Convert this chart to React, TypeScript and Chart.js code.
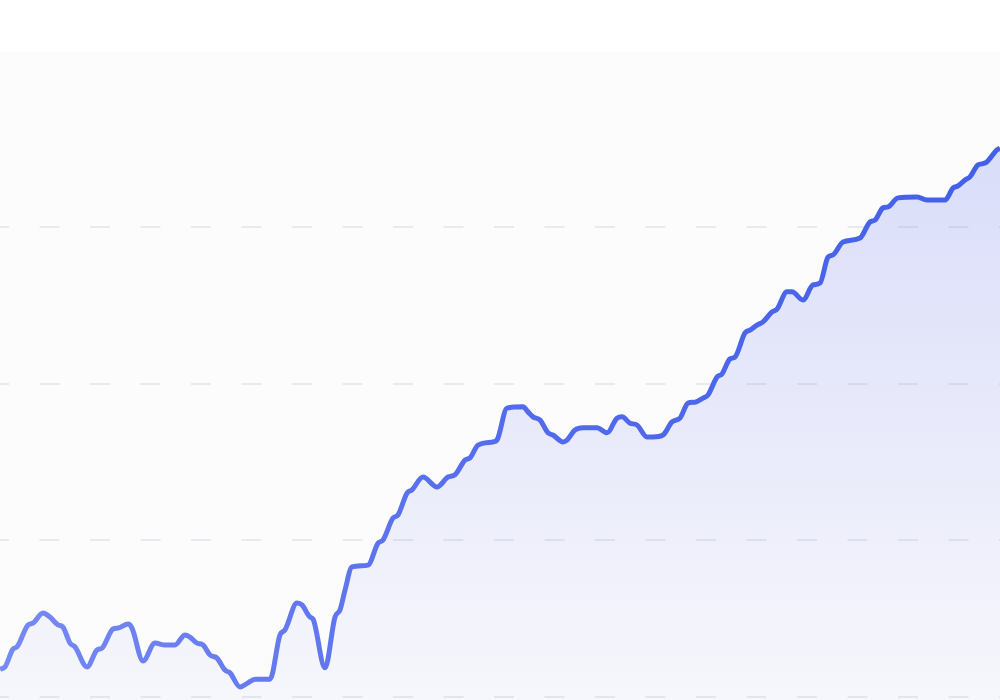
import React, { useEffect, useRef } from "react";
import { Chart, registerables } from "chart.js";

Chart.register(...registerables);

// Time axis (days) and series values
const days: number[] = [
  0, 0.5, 1.3, 1.7, 2.8, 3.3, 4.3, 5.0, 5.8, 6.3, 7.0, 7.5, 8.7, 9.7, 10.2, 11.3, 11.8, 12.8, 13.2,
  14.3, 15.5, 16.5, 17.5, 18.5, 19.0, 19.7, 20.3, 21.0, 21.7, 22.5, 23.0, 24.0, 24.8, 25.5, 27.0,
  28.0, 28.5, 29.7, 30.2, 31.0, 31.3, 32.5, 33.5, 34.0, 34.5, 35.2, 36.8, 37.8, 38.3, 39.3, 39.8,
  40.7, 41.2, 42.3, 43.7, 44.8, 45.5, 46.5, 47.0, 47.8, 49.3, 49.7, 50.7, 52.3, 52.8, 53.3, 54.0,
  54.8, 55.3, 56.3, 56.7, 57.5, 58.3, 59.7, 60.7, 61.7, 62.2, 63.0, 63.7, 64.7, 65.3, 66.3, 67.2,
  68.0, 68.8, 69.5, 70.3, 70.8, 71.7, 72.2, 73.0, 73.5, 74.5, 75.0, 75.7, 76.3, 77.2, 77.7, 78.7,
  79.2, 80.3, 81.3, 82.0, 82.8, 83.3, 84.3, 86.0, 87.0, 87.5, 88.3, 88.8, 89.8, 91.7, 92.7, 94.5,
  95.3, 95.8, 96.5, 97.0, 97.8, 98.5, 99.7, 100,
];

const values: number[] = [
  8.9, 9.6, 15.3, 16.0, 23.0, 23.6, 26.8, 25.5, 23.0, 22.3, 17.2, 16.0, 9.6, 15.0, 15.6, 21.7, 22.0, 23.3, 22.0,
  11.5, 17.2, 16.6, 16.6, 19.8, 19.1, 17.2, 16.6, 13.4, 12.4, 8.6, 7.7, 3.2, 4.5, 5.7, 5.7,
  19.8, 21.4, 30.0, 29.4, 25.5, 24.9, 9.3, 25.5, 27.8, 34.1, 41.5, 42.1, 49.1, 50.1, 57.1, 58.1,
  65.1, 66.1, 70.2, 67.0, 70.2, 70.9, 75.6, 76.3, 80.4, 81.4, 82.0, 92.2, 92.6, 91.0, 89.4, 88.4,
  84.3, 83.6, 81.4, 82.0, 85.2, 85.9, 85.9, 84.3, 89.0, 89.4, 87.4, 86.8, 83.0, 83.0, 83.6, 87.8,
  89.0, 93.8, 94.1, 95.4, 96.4, 102.1, 103.1, 107.9, 108.5, 116.2, 117.1, 118.7, 119.7, 122.9, 123.8, 129.3,
  129.3, 126.7, 131.5, 132.1, 140.4, 141.1, 145.2, 146.5, 151.6, 152.2, 156.1, 156.4, 159.3, 159.6, 158.6, 158.6,
  162.4, 163.1, 165.0, 166.0, 169.8, 170.4, 174.6, 175.2,
];

const gridTicks: number[] = [0, 50, 100, 150];

const plotBackground = {
  id: "plotBackground",
  beforeDraw(chart: any) {
    const { ctx, chartArea } = chart;
    if (!chartArea) return;
    ctx.save();
    ctx.fillStyle = "#fcfcfc";
    ctx.fillRect(chartArea.left, chartArea.top, chartArea.right - chartArea.left, chartArea.bottom - chartArea.top);
    ctx.restore();
  },
};

export default function App() {
  const canvasRef = useRef<HTMLCanvasElement | null>(null);

  useEffect(() => {
    const canvas = canvasRef.current;
    if (!canvas) return;
    const chart = new Chart(canvas, {
      type: "line",
      data: {
        datasets: [
          {
            data: days.map((d, i) => ({ x: d, y: values[i] })),
            borderWidth: 5,
            borderColor: (c: any) => {
              const area = c.chart.chartArea;
              if (!area) return "#5068ea";
              const g = c.chart.ctx.createLinearGradient(area.left, 0, area.right, 0);
              g.addColorStop(0, "rgba(108,128,242,0.92)");
              g.addColorStop(0.5, "rgba(84,108,236,1)");
              g.addColorStop(1, "rgba(66,96,232,1)");
              return g;
            },
            backgroundColor: (c: any) => {
              const area = c.chart.chartArea;
              if (!area) return "rgba(88,104,238,0.15)";
              const g = c.chart.ctx.createLinearGradient(0, area.top, 0, area.bottom);
              g.addColorStop(0, "rgba(88,104,238,0.24)");
              g.addColorStop(1, "rgba(88,104,238,0.035)");
              return g;
            },
            fill: "start",
            pointRadius: 0,
            pointHoverRadius: 0,
            cubicInterpolationMode: "monotone",
          },
        ],
      },
      options: {
        responsive: false,
        animation: false,
        devicePixelRatio: 1,
        layout: { padding: { top: 52, left: 0, right: 0, bottom: 0 } },
        plugins: {
          legend: { display: false },
          tooltip: { enabled: false },
        },
        scales: {
          x: {
            type: "linear",
            min: 0,
            max: 100,
            display: false,
          },
          y: {
            min: -0.96,
            max: 205.85,
            afterBuildTicks: (scale: any) => {
              scale.ticks = gridTicks.map((v) => ({ value: v }));
            },
            ticks: { display: false },
            border: { display: false, dash: [20, 30.5], dashOffset: 11 },
            grid: {
              color: "#e9eaee",
              lineWidth: 2,
              drawTicks: false,
            },
          },
        },
      },
      plugins: [plotBackground],
    });
    return () => chart.destroy();
  }, []);

  return (
    <div style={{ position: "fixed", left: 0, top: 0, width: 1000, height: 700, background: "#ffffff" }}>
      <canvas ref={canvasRef} width={1000} height={700} style={{ width: 1000, height: 700, display: "block" }} />
    </div>
  );
}
